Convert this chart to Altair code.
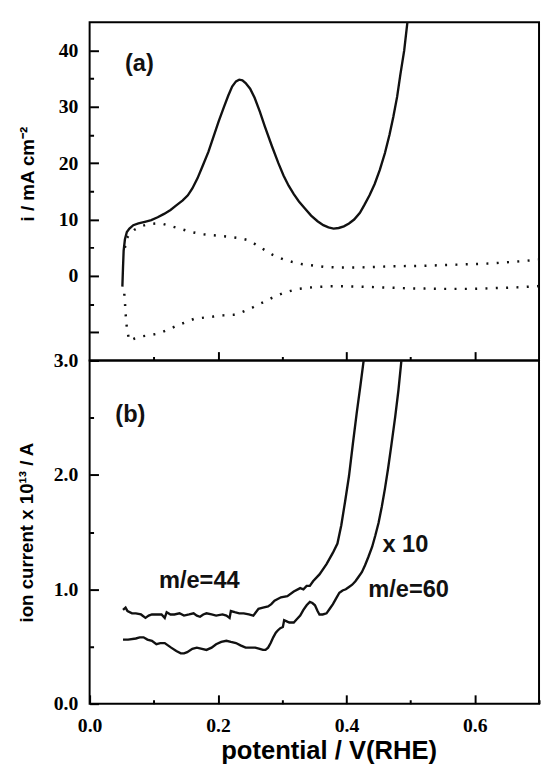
import altair as alt
import pandas as pd

# ---------------- panel (a): cyclic voltammogram ----------------
fwd_x = [0.051, 0.052, 0.053, 0.055, 0.058, 0.062, 0.068, 0.076, 0.086, 0.096, 0.106, 0.116,
         0.126, 0.135, 0.145, 0.153, 0.160, 0.168, 0.176, 0.185, 0.193, 0.201, 0.209, 0.216,
         0.222, 0.228, 0.233, 0.238, 0.243, 0.250, 0.257, 0.265, 0.273, 0.284, 0.294, 0.302,
         0.310, 0.318, 0.326, 0.335, 0.345, 0.355, 0.364, 0.372, 0.380, 0.388, 0.396, 0.404,
         0.412, 0.421, 0.428, 0.436, 0.444, 0.452, 0.460, 0.467, 0.473, 0.479, 0.484, 0.490, 0.495]
fwd_i = [-1.9, 1.5, 4.5, 6.5, 7.8, 8.4, 9.0, 9.3, 9.6, 9.9, 10.4, 11.0,
         11.7, 12.5, 13.4, 14.3, 15.5, 17.3, 19.5, 22.0, 24.7, 27.4, 29.9, 32.0,
         33.6, 34.5, 34.8, 34.7, 34.2, 33.2, 31.6, 29.2, 26.5, 23.0, 20.0, 17.8,
         16.0, 14.5, 13.2, 12.0, 10.7, 9.7, 9.0, 8.6, 8.4, 8.5, 8.8, 9.3,
         10.0, 11.2, 12.6, 14.3, 16.3, 18.8, 21.8, 25.0, 28.2, 31.8, 35.7, 40.0, 45.0]

up_x = [0.055, 0.057, 0.062, 0.070, 0.080, 0.092, 0.103, 0.115, 0.128, 0.143, 0.158, 0.175,
        0.193, 0.213, 0.234, 0.245, 0.254, 0.264, 0.274, 0.284, 0.294, 0.305, 0.315, 0.330,
        0.345, 0.365, 0.385, 0.421, 0.446, 0.471, 0.496, 0.522, 0.547, 0.572, 0.598, 0.623,
        0.648, 0.672, 0.700]
up_i = [5.0, 6.5, 7.4, 8.2, 8.8, 9.2, 9.3, 9.2, 8.8, 8.3, 7.8, 7.4,
        7.2, 7.0, 6.7, 6.4, 5.9, 5.2, 4.5, 3.8, 3.3, 2.8, 2.5, 2.1,
        1.9, 1.6, 1.5, 1.5, 1.6, 1.7, 1.75, 1.8, 1.9, 2.0, 2.1, 2.2,
        2.4, 2.6, 2.9]

low_x = [0.700, 0.672, 0.648, 0.622, 0.597, 0.572, 0.547, 0.522, 0.496, 0.471, 0.446, 0.420,
         0.395, 0.375, 0.355, 0.340, 0.325, 0.315, 0.305, 0.294, 0.284, 0.274, 0.264, 0.254,
         0.244, 0.234, 0.224, 0.208, 0.193, 0.178, 0.163, 0.150, 0.138, 0.123, 0.108, 0.095,
         0.082, 0.070, 0.062, 0.059, 0.057, 0.056, 0.055, 0.054, 0.053]
low_i = [-1.8, -2.0, -2.1, -2.2, -2.3, -2.3, -2.3, -2.25, -2.2, -2.1, -2.0, -1.9,
         -1.85, -1.85, -1.95, -2.1, -2.3, -2.6, -2.9, -3.4, -3.9, -4.5, -5.0, -5.6,
         -6.1, -6.6, -6.9, -7.0, -7.2, -7.4, -7.6, -8.2, -8.7, -9.5, -10.2, -10.5,
         -10.7, -11.1, -11.5, -10.0, -8.2, -6.5, -4.7, -3.2, -1.8]

# ---------------- panel (b): ion currents ----------------
m44_x = [0.052, 0.056, 0.059, 0.066, 0.072, 0.080, 0.087, 0.092, 0.097, 0.104, 0.112, 0.117,
         0.120, 0.126, 0.132, 0.140, 0.147, 0.155, 0.162, 0.167, 0.172, 0.177, 0.182, 0.190,
         0.197, 0.207, 0.213, 0.218, 0.220, 0.226, 0.233, 0.240, 0.248, 0.255, 0.263, 0.270,
         0.278, 0.283, 0.288, 0.298, 0.308, 0.318, 0.328, 0.333, 0.338, 0.343, 0.348, 0.358,
         0.369, 0.379, 0.386, 0.392, 0.398, 0.404, 0.410, 0.416, 0.422, 0.428]
m44_v = [0.82, 0.84, 0.81, 0.79, 0.79, 0.78, 0.75, 0.77, 0.78, 0.78, 0.78, 0.75,
         0.80, 0.78, 0.78, 0.79, 0.77, 0.78, 0.79, 0.77, 0.76, 0.78, 0.79, 0.78,
         0.77, 0.78, 0.77, 0.75, 0.81, 0.80, 0.79, 0.79, 0.78, 0.77, 0.83, 0.84,
         0.85, 0.87, 0.90, 0.93, 0.94, 0.98, 1.01, 1.00, 1.03, 1.03, 1.07, 1.13,
         1.22, 1.32, 1.40, 1.56, 1.77, 1.99, 2.27, 2.54, 2.79, 3.05]

m60_x = [0.052, 0.060, 0.072, 0.078, 0.084, 0.090, 0.097, 0.104, 0.110, 0.117, 0.122, 0.127,
         0.135, 0.142, 0.147, 0.152, 0.160, 0.167, 0.175, 0.182, 0.190, 0.197, 0.205, 0.213,
         0.220, 0.228, 0.235, 0.243, 0.250, 0.258, 0.265, 0.270, 0.274, 0.278, 0.282, 0.286,
         0.290, 0.293, 0.297, 0.301, 0.302, 0.303, 0.307, 0.311, 0.318, 0.323, 0.328, 0.333,
         0.338, 0.343, 0.347, 0.351, 0.355, 0.358, 0.363, 0.369, 0.374, 0.379, 0.384, 0.389,
         0.394, 0.399, 0.404, 0.409, 0.414, 0.419, 0.424, 0.429, 0.434, 0.440, 0.445, 0.450,
         0.455, 0.460, 0.465, 0.470, 0.476, 0.481, 0.486]
m60_v = [0.56, 0.56, 0.57, 0.58, 0.58, 0.56, 0.55, 0.52, 0.53, 0.53, 0.51, 0.49,
         0.46, 0.44, 0.44, 0.45, 0.48, 0.49, 0.48, 0.47, 0.49, 0.52, 0.54, 0.55,
         0.54, 0.53, 0.51, 0.49, 0.49, 0.49, 0.48, 0.47, 0.47, 0.49, 0.53, 0.58,
         0.62, 0.64, 0.66, 0.67, 0.70, 0.73, 0.72, 0.71, 0.71, 0.74, 0.77, 0.82,
         0.86, 0.89, 0.88, 0.86, 0.81, 0.78, 0.78, 0.79, 0.83, 0.87, 0.92, 0.97,
         0.99, 1.00, 1.02, 1.04, 1.07, 1.11, 1.15, 1.21, 1.28, 1.37, 1.47, 1.58,
         1.72, 1.88, 2.06, 2.26, 2.51, 2.74, 3.02]

# annotations
a_text = ["(a)"]
a_x = [0.055]
a_y = [37.5]
b_text = ["(b)", "m/e=44", "x 10", "m/e=60"]
b_x = [0.040, 0.108, 0.456, 0.434]
b_y = [2.52, 1.07, 1.39, 0.99]

# tick values
top_yticks = [-10, -5, 0, 5, 10, 15, 20, 25, 30, 35, 40]
top_xticks = [0.1, 0.2, 0.3, 0.4, 0.5, 0.6]
bot_yticks = [0.0, 0.5, 1.0, 1.5, 2.0, 2.5, 3.0]
bot_xticks = [0.0, 0.1, 0.2, 0.3, 0.4, 0.5, 0.6, 0.7]

W, H1, H2 = 457, 344, 349
TK = 9
MINOR_DASH = [0, 5, 4, 100]
MAJOR_DASH = [100, 0]
SERIF = "Liberation Serif"
SANS = "Liberation Sans"


def dash(test):
    return {"condition": {"test": test, "value": MINOR_DASH}, "value": MAJOR_DASH}


def mk(xs, ys):
    return pd.DataFrame({"x": xs, "y": ys, "o": list(range(len(xs)))})


common = dict(domain=False, grid=False, offset=-TK, tickSize=TK, tickWidth=2, tickColor="black",
              labelFont=SERIF, labelFontWeight="bold", labelFontSize=20, labelColor="black",
              titleFont=SANS, titleFontWeight="bold", titleFontSize=19, titleColor="black",
              labelFlush=False, labelOverlap=False)

# ----- encodings -----
x_top = alt.X("x:Q", scale=alt.Scale(domain=[0, 0.7], nice=False, zero=False),
              axis=alt.Axis(values=top_xticks, labels=False, title=None,
                            tickDash=dash("round(datum.value*10) % 2 === 1"), **common))
y_top = alt.Y("y:Q", scale=alt.Scale(domain=[-15, 45], nice=False, zero=False),
              axis=alt.Axis(values=top_yticks, title="i / mA cm⁻²", labelPadding=12,
                            titlePadding=21, titleY=154,
                            labelExpr="datum.value >= 0 && datum.value % 10 === 0 ? datum.label : ''",
                            tickDash=dash("datum.value % 10 !== 0"), **common))

common_b = dict(common)
common_b["titleFontSize"] = 26
x_bot = alt.X("x:Q", scale=alt.Scale(domain=[0, 0.7], nice=False, zero=False),
              axis=alt.Axis(values=bot_xticks, format=".1f", title="potential / V(RHE)",
                            labelPadding=12, titlePadding=3, titleX=243,
                            labelExpr="round(datum.value*10) % 2 === 0 && datum.value < 0.65 ? datum.label : ''",
                            tickDash=dash("round(datum.value*10) % 2 === 1"), **common_b))
y_bot = alt.Y("y:Q", scale=alt.Scale(domain=[0, 3.0], nice=False, zero=False),
              axis=alt.Axis(values=bot_yticks, format=".1f", title="ion current x 10¹³ / A",
                            labelPadding=12, titlePadding=17,
                            labelExpr="round(datum.value*2) % 2 === 0 ? datum.label : ''",
                            tickDash=dash("round(datum.value*2) % 2 === 1"), **common))

LINE = "#111111"


def line(df, x, y, dotted=False):
    kw = dict(color=LINE, strokeWidth=2.4, clip=True)
    if dotted:
        kw.update(strokeDash=[2, 8.5], strokeWidth=2.5)
    return alt.Chart(df).mark_line(**kw).encode(x=x, y=y, order="o:Q")


def texts(xs, ys, ts, x, y, size):
    df = pd.DataFrame({"x": xs, "y": ys, "t": ts})
    return alt.Chart(df).mark_text(align="left", baseline="middle", font=SANS,
                                   fontWeight="bold", fontSize=size, color=LINE).encode(
        x=x, y=y, text="t:N")


top = alt.layer(
    line(mk(fwd_x, fwd_i), x_top, y_top),
    line(mk(up_x, up_i), x_top, y_top, dotted=True),
    line(mk(low_x, low_i), x_top, y_top, dotted=True),
    texts(a_x, a_y, a_text, x_top, y_top, 24),
).properties(width=W, height=H1)

bottom = alt.layer(
    line(mk(m44_x, m44_v), x_bot, y_bot),
    line(mk(m60_x, m60_v), x_bot, y_bot),
    texts(b_x, b_y, b_text, x_bot, y_bot, 24),
).properties(width=W, height=H2)

chart = alt.vconcat(top, bottom, spacing=0, bounds="flush").properties(
    padding={"left": 9, "top": 7, "right": 0, "bottom": 0}, background="white"
).configure_view(stroke="black", strokeWidth=2)

chart.save("out.html", embed_options={"renderer": "svg", "actions": False})
